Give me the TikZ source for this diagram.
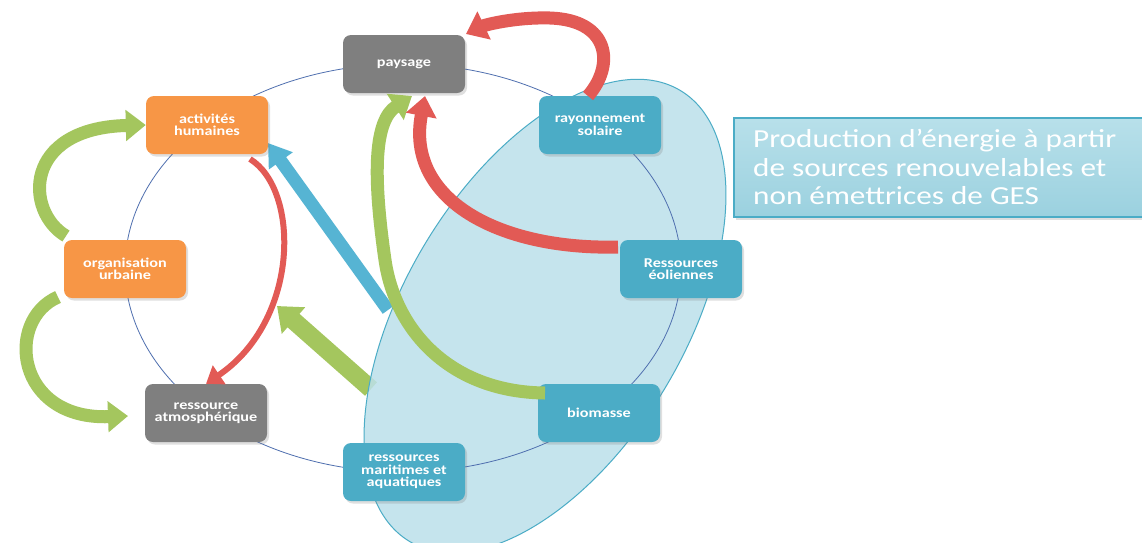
\documentclass[tikz,border=0pt]{standalone}
\usepackage{fontspec}
\newfontfamily\boxfont[FakeStretch=1.2]{Carlito}
\usetikzlibrary{arrows.meta,shadows}
\definecolor{boxgray}{HTML}{7F7F7F}
\definecolor{boxorange}{HTML}{F79646}
\definecolor{boxblue}{HTML}{4BACC6}
\definecolor{ringblue}{HTML}{4F6FAF}
\definecolor{ellfill}{HTML}{BCE0EA}
\definecolor{ellline}{HTML}{4BACC6}
\definecolor{arrgreen}{HTML}{A4C65E}
\definecolor{arrred}{HTML}{E25A55}
\definecolor{arrblue}{HTML}{56B4D3}
\definecolor{prodtop}{HTML}{B8E0EA}
\definecolor{prodbot}{HTML}{9BD1DF}
\tikzset{
  box/.style={rounded corners=8pt, minimum width=122pt, minimum height=58pt,
    align=center, text=white, inner sep=2pt,
    font=\boxfont\bfseries\fontsize{13.5}{12.5}\selectfont,
    drop shadow={opacity=0.25, shadow xshift=2pt, shadow yshift=-2.5pt}},
  graybox/.style={box, fill=boxgray},
  orgbox/.style={box, fill=boxorange},
  bluebox/.style={box, fill=boxblue},
  fat/.style n args={3}{line width=#1, -{Triangle[width=#2,length=#3]}},
  garr/.style={draw=arrgreen, fat={13pt}{30pt}{20pt}},
  rarr/.style={draw=arrred, fat={13pt}{30pt}{20pt}},
}
\begin{document}
\begin{tikzpicture}[x=1pt,y=-1pt]
\useasboundingbox (0,0) rectangle (1142,542);
\fill[white] (0,0) rectangle (1142,542);
% straight arrows (under the ellipse)
\coordinate (a4s) at (388,310);
\coordinate (a4e) at (268,143);
\coordinate (a5s) at (371,389);
\coordinate (a5e) at (277,306);
\draw[draw=arrblue, fat={13pt}{28pt}{22pt}] (a4s) -- (a4e);
\draw[draw=arrgreen, fat={18pt}{34pt}{22pt}] (a5s) -- (a5e);
% big ellipse
\draw[ellline, fill=ellfill, fill opacity=0.85, line width=1pt, rotate around={59:(545,316)}]
  (545,316) ellipse [x radius=263, y radius=140];
% ring
\draw[ringblue, line width=0.8pt] (403,268) ellipse [x radius=278, y radius=204];
% nodes
\node[graybox] (pay) at (404,64) {paysage};
\node[orgbox] (act) at (207,125) {activités\\humaines};
\node[orgbox] (org) at (125,269) {organisation\\urbaine};
\node[graybox] (atm) at (206,413) {ressource\\atmosphérique};
\node[bluebox] (mar) at (404,472) {ressources\\maritimes et\\aquatiques};
\node[bluebox] (bio) at (599,413) {biomasse};
\node[bluebox] (eol) at (681,269) {Ressources\\éoliennes};
\node[bluebox] (ray) at (600,125) {rayonnement\\solaire};
% right box
\node[anchor=north west, draw=boxblue, line width=1.5pt, top color=prodtop, bottom color=prodbot,
  minimum width=430pt, minimum height=99pt,
  drop shadow={opacity=0.25, shadow xshift=2pt, shadow yshift=-3pt}] (prodbox) at (733,117) {};
\node[anchor=north west, align=left, text=white, inner sep=0pt,
  font=\boxfont\fontsize{26}{28.5}\selectfont] (prod) at (753,129)
  {Production d’énergie à partir\\de sources renouvelables et\\non émettrices de GES};
% curved arrows
\coordinate (a1s) at (66,236);
\draw[garr] (a1s) .. controls (25,212) and (22,128) .. (act.west);
\coordinate (a2s) at (58,297);
\coordinate (a2e) at (128,416);
\draw[garr] (a2s) .. controls (5,320) and (15,420) .. (a2e);
\coordinate (a3s) at (250,159);
\draw[draw=arrred, fat={6pt}{22pt}{16pt}] (a3s) .. controls (300,190) and (300,320) .. (atm.north);
\coordinate (a6s) at (545,393);
\coordinate (a6e) at (412,96);
\draw[garr] (a6s) .. controls (450,392) and (395,330) .. (385,260) .. controls (372,170) and (375,120) .. (a6e);
\coordinate (a7s) at (618,247);
\coordinate (a7e) at (425,96);
\draw[rarr] (a7s) .. controls (500,250) and (405,200) .. (a7e);
\coordinate (a8s) at (588,96);
\coordinate (a8e) at (466,34);
\draw[rarr] (a8s) .. controls (615,65) and (610,20) .. (550,18) .. controls (515,17) and (485,25) .. (a8e);
\end{tikzpicture}
\end{document}
